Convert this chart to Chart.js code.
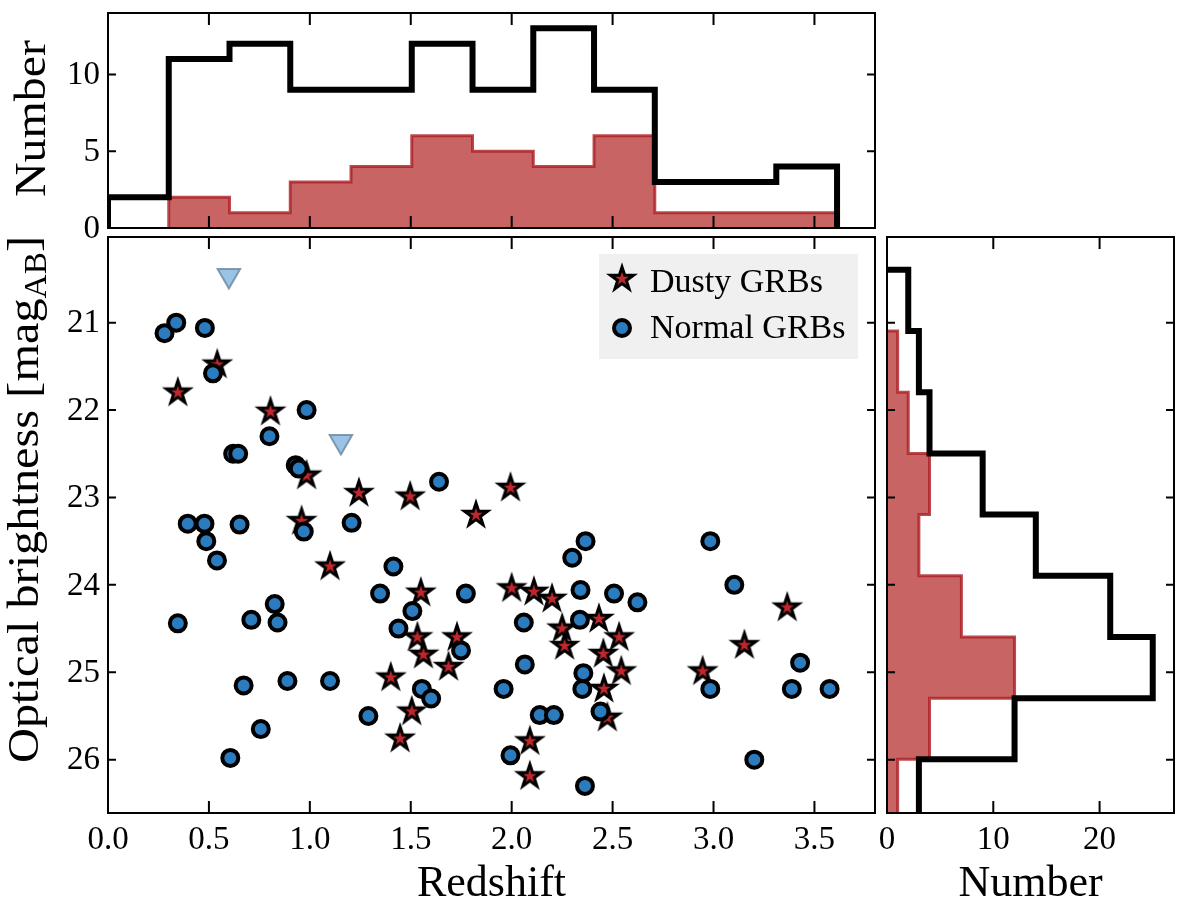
<!DOCTYPE html>
<html>
<head>
<meta charset="utf-8">
<script src="https://cdn.jsdelivr.net/npm/chart.js@4.4.1/dist/chart.umd.min.js"></script>
<style>
  html, body { margin: 0; padding: 0; background: #fff; }
  #wrap { position: relative; width: 1200px; height: 906px; overflow: hidden; }
  canvas { position: absolute; }
</style>
</head>
<body>
<div id="wrap">
  <canvas id="cTop" width="880" height="260" style="left:0;top:0"></canvas>
  <canvas id="cMain" width="880" height="674" style="left:0;top:232px"></canvas>
  <canvas id="cSide" width="340" height="674" style="left:860px;top:232px"></canvas>
</div>
<script>
// redshift histogram (top panel)
const zEdges = [0, 0.301, 0.602, 0.903, 1.204, 1.505, 1.806, 2.107, 2.408, 2.709, 3.010, 3.311, 3.612];
const zCountAll = [2, 11, 12, 9, 9, 12, 9, 13, 9, 3, 3, 4];
const zCountDusty = [0, 2, 1, 3, 4, 6, 5, 4, 6, 1, 1, 1];

// magnitude histogram (right panel)
const magEdges = [20.396, 21.096, 21.796, 22.496, 23.196, 23.896, 24.596, 25.296, 25.996, 26.696];
const magCountAll = [2, 3, 4, 9, 14, 21, 25, 12, 3];
const magCountDusty = [0, 1, 2, 4, 3, 7, 12, 4, 1];

// dusty GRBs (stars)
const dustyZ = [0.541, 0.346, 0.805, 0.984, 1.243, 1.497, 1.823, 0.959, 1.10,
  1.55, 1.533, 1.563, 1.729, 1.687, 1.401, 1.505, 1.447, 1.994,
  2.0, 2.11, 2.20, 3.365, 2.25, 2.432, 2.532, 2.262, 2.454, 3.153,
  2.543, 2.946, 2.457, 2.474, 2.09, 2.09];
const dustyMag = [21.48, 21.80, 22.02, 22.75, 22.95, 22.99, 23.20, 23.27, 23.79,
  24.09, 24.60, 24.80, 24.60, 24.94, 25.06, 25.45, 25.76, 22.89,
  24.04, 24.08, 24.16, 24.26, 24.50, 24.39, 24.60, 24.70, 24.79, 24.69,
  24.99, 24.99, 25.19, 25.52, 25.79, 26.19];

// normal GRBs (circles)
const normalZ = [0.28, 0.338, 0.48, 0.52, 0.984, 0.80, 0.62, 0.645, 0.93, 0.945,
  1.64, 0.395, 0.478, 0.652, 0.487, 0.54, 0.97, 1.207, 1.414,
  0.346, 0.71, 0.826, 0.84, 1.348, 1.508, 1.439, 1.773, 1.749, 0.672,
  0.889, 1.10, 1.555, 1.601, 1.29, 0.757, 0.606,
  2.366, 2.30, 2.984,
  3.103, 2.341, 2.507, 2.623, 2.06, 2.338, 2.065, 2.355, 3.429, 1.96,
  2.35, 2.984, 3.388, 3.575, 2.44, 2.139, 2.209, 1.994, 3.202, 2.363];
const normalMag = [21.12, 21.0, 21.06, 21.58, 22.0, 22.30, 22.50, 22.50, 22.63, 22.67,
  22.82, 23.30, 23.30, 23.31, 23.50, 23.72, 23.39, 23.29, 23.79,
  24.44, 24.40, 24.22, 24.43, 24.10, 24.30, 24.50, 24.10, 24.75, 25.15,
  25.10, 25.10, 25.19, 25.30, 25.50, 25.65, 25.98,
  23.50, 23.69, 23.50,
  24.0, 24.06, 24.10, 24.20, 24.43, 24.40, 24.91, 25.01, 24.89, 25.19,
  25.19, 25.19, 25.19, 25.19, 25.45, 25.49, 25.49, 25.95, 26.00, 26.30];

// upper limits (triangles)
const limitZ = [0.599, 1.154];
const limitMag = [20.46, 22.36];

const zTicks = [0, 0.5, 1.0, 1.5, 2.0, 2.5, 3.0, 3.5];
const magTicks = [21, 22, 23, 24, 25, 26];
const topCountTicks = [0, 5, 10];
const sideCountTicks = [0, 10, 20];

const SERIF = "'Liberation Serif', 'DejaVu Serif', serif";
const BLUE = '#2b7bbf';
const STAR_RED = '#c0272d';
const HIST_FILL = 'rgba(178, 34, 34, 0.7)';
const HIST_EDGE = 'rgba(170, 30, 35, 0.8)';

Chart.defaults.font.family = SERIF;
Chart.defaults.font.size = 33;
Chart.defaults.color = '#000';
Chart.defaults.animation = false;
Chart.defaults.events = [];
Chart.defaults.plugins.legend.display = false;
Chart.defaults.plugins.tooltip.enabled = false;

// outline of a histogram, starting at the first non-empty bin
function stepAlongX(edges, counts) {
  const i0 = counts.findIndex(c => c > 0);
  const pts = [{x: edges[i0], y: 0}];
  for (let i = i0; i < counts.length; i++) pts.push({x: edges[i], y: counts[i]});
  pts.push({x: edges[edges.length - 1], y: 0});
  return pts;
}

function stepAlongY(edges, counts) {
  const i0 = counts.findIndex(c => c > 0);
  const pts = [{x: 0, y: edges[i0]}];
  for (let i = i0; i < counts.length; i++) pts.push({x: counts[i], y: edges[i]});
  pts.push({x: 0, y: edges[edges.length - 1]});
  return pts;
}

function fixedTicks(values) {
  return s => { s.ticks = values.map(v => ({value: v})); };
}

function makeStar(R, lw, fill) {
  const r = R * 0.382;
  const pad = Math.ceil(lw * 1.7) + 2;
  const size = 2 * (R + pad);
  const c = document.createElement('canvas');
  c.width = size; c.height = size;
  const g = c.getContext('2d');
  g.translate(size / 2, size / 2);
  g.beginPath();
  for (let k = 0; k < 10; k++) {
    const a = -Math.PI / 2 + k * Math.PI / 5;
    const rad = k % 2 ? r : R;
    g.lineTo(Math.cos(a) * rad, Math.sin(a) * rad);
  }
  g.closePath();
  g.fillStyle = fill;
  g.fill();
  g.lineWidth = lw;
  g.lineJoin = 'miter';
  g.strokeStyle = '#000';
  g.stroke();
  return c;
}
const starImg = makeStar(12, 3, STAR_RED);

// box with inward ticks on all four sides; y labels drawn here too
function frame(yLabel) {
  return {
    id: 'frame',
    afterDatasetsDraw(chart) {
      const {ctx, chartArea: a} = chart;
      const x = chart.scales.x, y = chart.scales.y;
      ctx.save();
      ctx.strokeStyle = '#000';
      ctx.lineWidth = 2;
      ctx.beginPath();
      x.ticks.forEach(t => {
        const px = x.getPixelForValue(t.value);
        ctx.moveTo(px, a.bottom); ctx.lineTo(px, a.bottom - 12);
        ctx.moveTo(px, a.top); ctx.lineTo(px, a.top + 12);
      });
      y.ticks.forEach(t => {
        const py = y.getPixelForValue(t.value);
        ctx.moveTo(a.left, py); ctx.lineTo(a.left + 8, py);
        ctx.moveTo(a.right, py); ctx.lineTo(a.right - 8, py);
      });
      ctx.stroke();
      ctx.strokeRect(a.left, a.top, a.right - a.left, a.bottom - a.top);
      if (yLabel) {
        ctx.fillStyle = '#000';
        ctx.font = '33px ' + SERIF;
        ctx.textAlign = 'right';
        ctx.textBaseline = 'middle';
        y.ticks.forEach(t => ctx.fillText(String(t.value), a.left - 8, y.getPixelForValue(t.value) + 1));
      }
      ctx.restore();
    }
  };
}

// rotated axis title, parts allow a subscript
function sideTitle(parts, baseX, midY, length) {
  return {
    id: 'sideTitle',
    afterDraw(chart) {
      const ctx = chart.ctx;
      ctx.save();
      ctx.fillStyle = '#000';
      ctx.textBaseline = 'alphabetic';
      ctx.textAlign = 'left';
      let w = 0;
      parts.forEach(p => {
        ctx.font = p.size + 'px ' + SERIF;
        p.w = ctx.measureText(p.text).width;
        w += p.w;
      });
      ctx.translate(baseX, midY);
      ctx.rotate(-Math.PI / 2);
      ctx.scale(length / w, 1);
      let u = -w / 2;
      parts.forEach(p => {
        ctx.font = p.size + 'px ' + SERIF;
        ctx.fillText(p.text, u, p.shift || 0);
        u += p.w;
      });
      ctx.restore();
    }
  };
}

const legendPlugin = {
  id: 'boxLegend',
  afterDraw(chart) {
    const ctx = chart.ctx;
    ctx.save();
    ctx.fillStyle = '#f0f0f0';
    ctx.fillRect(599, 22, 259, 105);
    ctx.drawImage(starImg, 622 - starImg.width / 2, 47 - starImg.height / 2);
    ctx.beginPath();
    ctx.arc(622, 96, 8, 0, Math.PI * 2);
    ctx.fillStyle = BLUE;
    ctx.fill();
    ctx.lineWidth = 4;
    ctx.strokeStyle = '#000';
    ctx.stroke();
    ctx.fillStyle = '#000';
    ctx.font = '34px ' + SERIF;
    ctx.textAlign = 'left';
    ctx.textBaseline = 'alphabetic';
    ctx.fillText('Dusty GRBs', 650, 60);
    ctx.fillText('Normal GRBs', 650, 106);
    ctx.restore();
  }
};

const noGrid = {display: false, drawTicks: false};
const noBorder = {display: false};

// top: redshift histogram
new Chart(document.getElementById('cTop'), {
  type: 'line',
  data: {
    datasets: [{
      data: stepAlongX(zEdges, zCountAll),
      borderColor: '#000', borderWidth: 6, fill: false,
      stepped: 'before', pointRadius: 0
    }, {
      data: stepAlongX(zEdges, zCountDusty),
      borderColor: HIST_EDGE, borderWidth: 3, backgroundColor: HIST_FILL,
      fill: 'origin', stepped: 'before', pointRadius: 0
    }]
  },
  options: {
    responsive: false,
    layout: {autoPadding: false, padding: {top: 13, right: 5, left: 0, bottom: 0}},
    scales: {
      x: {
        type: 'linear', min: 0, max: 3.8,
        afterBuildTicks: fixedTicks(zTicks),
        afterFit: s => { s.height = 32; },
        grid: noGrid, border: noBorder,
        ticks: {display: false}
      },
      y: {
        type: 'linear', min: 0, max: 14,
        afterBuildTicks: fixedTicks(topCountTicks),
        afterFit: s => { s.width = 108; },
        grid: noGrid, border: noBorder,
        ticks: {display: false}
      }
    }
  },
  plugins: [frame(true), sideTitle([{text: 'Number', size: 45}], 45, 118.5, 157)]
});

// main: optical brightness vs redshift
new Chart(document.getElementById('cMain'), {
  type: 'scatter',
  data: {
    datasets: [{
      label: 'Normal GRBs',
      data: normalZ.map((z, i) => ({x: z, y: normalMag[i]})),
      pointStyle: 'circle', pointRadius: 8,
      pointBackgroundColor: BLUE, pointBorderColor: '#000', pointBorderWidth: 4
    }, {
      label: 'Dusty GRBs',
      data: dustyZ.map((z, i) => ({x: z, y: dustyMag[i]})),
      pointStyle: starImg, pointRadius: 12
    }, {
      label: 'Upper limits',
      data: limitZ.map((z, i) => ({x: z, y: limitMag[i]})),
      pointStyle: 'triangle', pointRotation: 180, pointRadius: 13,
      pointBackgroundColor: 'rgba(120, 175, 220, 0.75)',
      pointBorderColor: 'rgba(110, 140, 165, 0.85)', pointBorderWidth: 2
    }]
  },
  options: {
    responsive: false,
    layout: {autoPadding: false, padding: {top: 5, right: 5, left: 0, bottom: 0}},
    scales: {
      x: {
        type: 'linear', min: 0, max: 3.8,
        afterBuildTicks: fixedTicks(zTicks),
        afterFit: s => { s.height = 93; },
        grid: noGrid, border: noBorder,
        ticks: {padding: 8, maxRotation: 0, autoSkip: false, callback: v => v.toFixed(1)},
        title: {display: true, text: 'Redshift', font: {size: 44, lineHeight: 1}, padding: {top: 0, bottom: 0}}
      },
      y: {
        type: 'linear', min: 20.02, max: 26.61, reverse: true,
        afterBuildTicks: fixedTicks(magTicks),
        afterFit: s => { s.width = 108; },
        grid: noGrid, border: noBorder,
        ticks: {display: false}
      }
    }
  },
  plugins: [frame(true), legendPlugin,
    sideTitle([{text: 'Optical brightness [mag', size: 45}, {text: 'AB', size: 31, shift: 8}, {text: ']', size: 45}], 38, 267.5, 527)]
});

// right: magnitude histogram
new Chart(document.getElementById('cSide'), {
  type: 'line',
  data: {
    datasets: [{
      data: stepAlongY(magEdges, magCountAll),
      borderColor: '#000', borderWidth: 6, fill: false,
      stepped: 'after', pointRadius: 0
    }, {
      data: stepAlongY(magEdges, magCountDusty),
      borderColor: HIST_EDGE, borderWidth: 3, backgroundColor: HIST_FILL,
      fill: 'origin', stepped: 'after', pointRadius: 0
    }]
  },
  options: {
    responsive: false,
    indexAxis: 'y',
    layout: {autoPadding: false, padding: {top: 5, right: 26, left: 0, bottom: 0}},
    scales: {
      x: {
        type: 'linear', min: 0, max: 27,
        afterBuildTicks: fixedTicks(sideCountTicks),
        afterFit: s => { s.height = 93; },
        grid: noGrid, border: noBorder,
        ticks: {padding: 8, maxRotation: 0, autoSkip: false},
        title: {display: true, text: 'Number', font: {size: 44, lineHeight: 1}, padding: {top: 0, bottom: 0}}
      },
      y: {
        type: 'linear', min: 20.02, max: 26.61, reverse: true,
        afterBuildTicks: fixedTicks(magTicks),
        afterFit: s => { s.width = 27; },
        grid: noGrid, border: noBorder,
        ticks: {display: false}
      }
    }
  },
  plugins: [frame(false)]
});
</script>
</body>
</html>
